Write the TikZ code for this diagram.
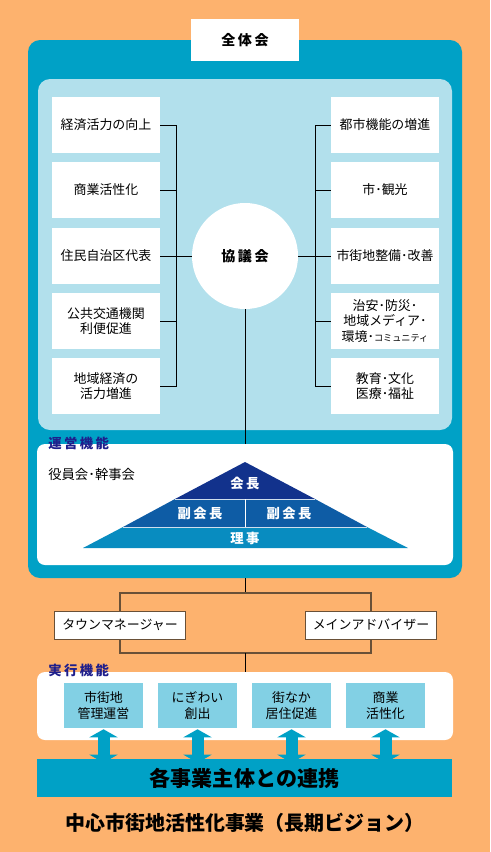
\documentclass[tikz,border=0pt]{standalone}
\usepackage{fontspec}
\setmainfont{Noto Sans CJK JP}
\newfontfamily\spacedjp{Noto Sans CJK JP}[LetterSpace=18]
\usetikzlibrary{arrows.meta,positioning}
\definecolor{bgorange}{RGB}{253,178,110}
\definecolor{panelteal}{RGB}{0,161,198}
\definecolor{panellight}{RGB}{178,224,236}
\definecolor{labelnavy}{RGB}{30,30,140}
\definecolor{pyrtop}{RGB}{18,50,140}
\definecolor{pyrmid}{RGB}{14,92,165}
\definecolor{pyrbase}{RGB}{8,140,192}
\definecolor{taskblue}{RGB}{130,208,228}
\definecolor{bracketbrown}{RGB}{105,80,55}
\tikzset{
    % Boxes round the council
    sidebox/.style={
        rectangle, fill=white, minimum width=27mm, minimum height=14mm,
        inner sep=1pt, align=center, font=\fontsize{9.2}{10.8}\selectfont
    },
    % Title box and council circle
    topbox/.style={
        rectangle, fill=white, minimum width=27mm, minimum height=10.5mm,
        font=\spacedjp\fontsize{10}{12}\selectfont\bfseries
    },
    councilnode/.style={
        circle, fill=white, minimum size=26.5mm, inner sep=0pt,
        font=\spacedjp\fontsize{10}{12}\selectfont\bfseries
    },
    % Staff boxes below the panel
    staffbox/.style={
        rectangle, fill=white, draw=bracketbrown, line width=0.4pt,
        minimum width=32.75mm, minimum height=7mm, inner sep=1pt,
        font=\fontsize{9.2}{11}\selectfont
    },
    % Task boxes of the execution panel
    taskbox/.style={
        rectangle, fill=taskblue, minimum width=19.75mm, minimum height=11.25mm,
        inner sep=1pt, align=center, font=\fontsize{9.2}{10.8}\selectfont
    },
    % Texts
    panellabel/.style={
        anchor=west, text=labelnavy, inner sep=0pt,
        font=\spacedjp\fontsize{9.5}{11}\selectfont\bfseries
    },
    pyrtext/.style={
        text=white, inner sep=0pt,
        font=\spacedjp\fontsize{9.5}{11}\selectfont\bfseries
    },
}
\tikzset{
    % Line styles
    linkline/.style={line width=0.5pt, black},
    bracketline/.style={line width=1pt, bracketbrown},
    dblarrow/.style={
        line width=3mm, panelteal,
        {Triangle[width=7mm,length=2mm]}-{Triangle[width=7mm,length=2mm]}
    },
}

\begin{document}
\begin{tikzpicture}[x=0.25mm,y=-0.25mm]
  % background and panels
  \fill[bgorange] (0,0) rectangle (490,852);
  \useasboundingbox (0,0) rectangle (490,852);
  \fill[panelteal, rounded corners=3mm] (28,40) rectangle (462,578);
  \fill[panellight, rounded corners=3mm] (38,79) rectangle (452,430);
  \fill[white, rounded corners=2mm] (37,444) rectangle (453,565);
  \fill[white, rounded corners=2mm] (37,672) rectangle (453,740);

  \node[topbox] (plenary) at (245,40) {全体会};
  \node[councilnode] (council) at (245,256) {協議会};

  % left side
  \node[sidebox] (l1) at (106,125) {経済活力の向上};
  \node[sidebox] (l2) at (106,190) {商業活性化};
  \node[sidebox] (l3) at (106,256) {住民自治区代表};
  \node[sidebox] (l4) at (106,321) {公共交通機関\\利便促進};
  \node[sidebox] (l5) at (106,386) {地域経済の\\活力増進};
  % right side
  \node[sidebox] (r1) at (385,125) {都市機能の増進};
  \node[sidebox] (r2) at (385,190) {市･観光};
  \node[sidebox] (r3) at (385,256) {市街地整備･改善};
  \node[sidebox] (r4) at (385,321) {治安･防災･\\地域メディア･\\環境･{\fontsize{6.5}{8}\selectfont コミュニティ}};
  \node[sidebox] (r5) at (385,386) {教育･文化\\医療･福祉};

  \coordinate (lbar) at (176,0);
  \coordinate (rbar) at (315,0);
  \draw[linkline] (l1.east) -- (l1.east -| lbar) -- (l5.east -| lbar) -- (l5.east);
  \draw[linkline] (l2.east) -- (l2.east -| lbar);
  \draw[linkline] (l4.east) -- (l4.east -| lbar);
  \draw[linkline] (l3.east) -- (council.west);
  \draw[linkline] (r1.west) -- (r1.west -| rbar) -- (r5.west -| rbar) -- (r5.west);
  \draw[linkline] (r2.west) -- (r2.west -| rbar);
  \draw[linkline] (r4.west) -- (r4.west -| rbar);
  \draw[linkline] (r3.west) -- (council.east);

  % management panel
  \coordinate (opstop) at (245,444);
  \draw[linkline] (council.south) -- (opstop);
  \node[panellabel] (opslabel) at (48,443) {運営機能};
  \node[anchor=west, inner sep=0pt, font=\fontsize{9.5}{11}\selectfont] (board) at (48,474) {役員会･幹事会};
  \fill[pyrtop] (245,462) -- (175,499) -- (315,499) -- cycle;
  \fill[pyrmid] (175,499) -- (315,499) -- (367,527) -- (123,527) -- cycle;
  \fill[pyrbase] (123,527) -- (367,527) -- (408,548) -- (83,548) -- cycle;
  \draw[white!80!pyrmid, line width=0.6pt] (175,499) -- (315,499);
  \draw[white!80!pyrmid, line width=0.6pt] (123,527) -- (367,527);
  \draw[white, line width=0.6pt] (245,499) -- (245,527);
  \node[pyrtext] (chair) at (245,483) {会長};
  \node[pyrtext] (vice1) at (200,513) {副会長};
  \node[pyrtext] (vice2) at (289,513) {副会長};
  \node[pyrtext] (members) at (245,538) {理事};

  % staff
  \coordinate (tealbot) at (245,578);
  \coordinate (upbar) at (245,593);
  \coordinate (lowbar) at (245,653);
  \coordinate (exectop) at (245,672);
  \node[staffbox] (tm) at (120,625) {タウンマネージャー};
  \node[staffbox] (ma) at (371,625) {メインアドバイザー};
  \draw[linkline] (tealbot) -- (upbar);
  \draw[bracketline] (tm.north) |- (upbar) -| (ma.north);
  \draw[bracketline] (tm.south) |- (lowbar) -| (ma.south);
  \draw[linkline] (lowbar) -- (exectop);

  % execution panel
  \node[panellabel] (execlabel) at (48,670) {実行機能};
  \node[taskbox] (t1) at (103.5,705.5) {市街地\\管理運営};
  \node[taskbox] (t2) at (197.5,705.5) {にぎわい\\創出};
  \node[taskbox] (t3) at (291.5,705.5) {街なか\\居住促進};
  \node[taskbox] (t4) at (385.5,705.5) {商業\\活性化};

  \node[fill=panelteal, minimum width=103.75mm, minimum height=9.5mm,
        font=\fontsize{15}{18}\selectfont\bfseries] (partners) at (244.5,778) {各事業主体との連携};
  \draw[dblarrow] (t1.south) ++(0,1) -- ([yshift=-1mm]partners.north -| t1.south);
  \draw[dblarrow] (t2.south) ++(0,1) -- ([yshift=-1mm]partners.north -| t2.south);
  \draw[dblarrow] (t3.south) ++(0,1) -- ([yshift=-1mm]partners.north -| t3.south);
  \draw[dblarrow] (t4.south) ++(0,1) -- ([yshift=-1mm]partners.north -| t4.south);

  \node[font=\fontsize{14.2}{17}\selectfont\bfseries] (title) at (245,823) {中心市街地活性化事業（長期ビジョン）};
\end{tikzpicture}
\end{document}
